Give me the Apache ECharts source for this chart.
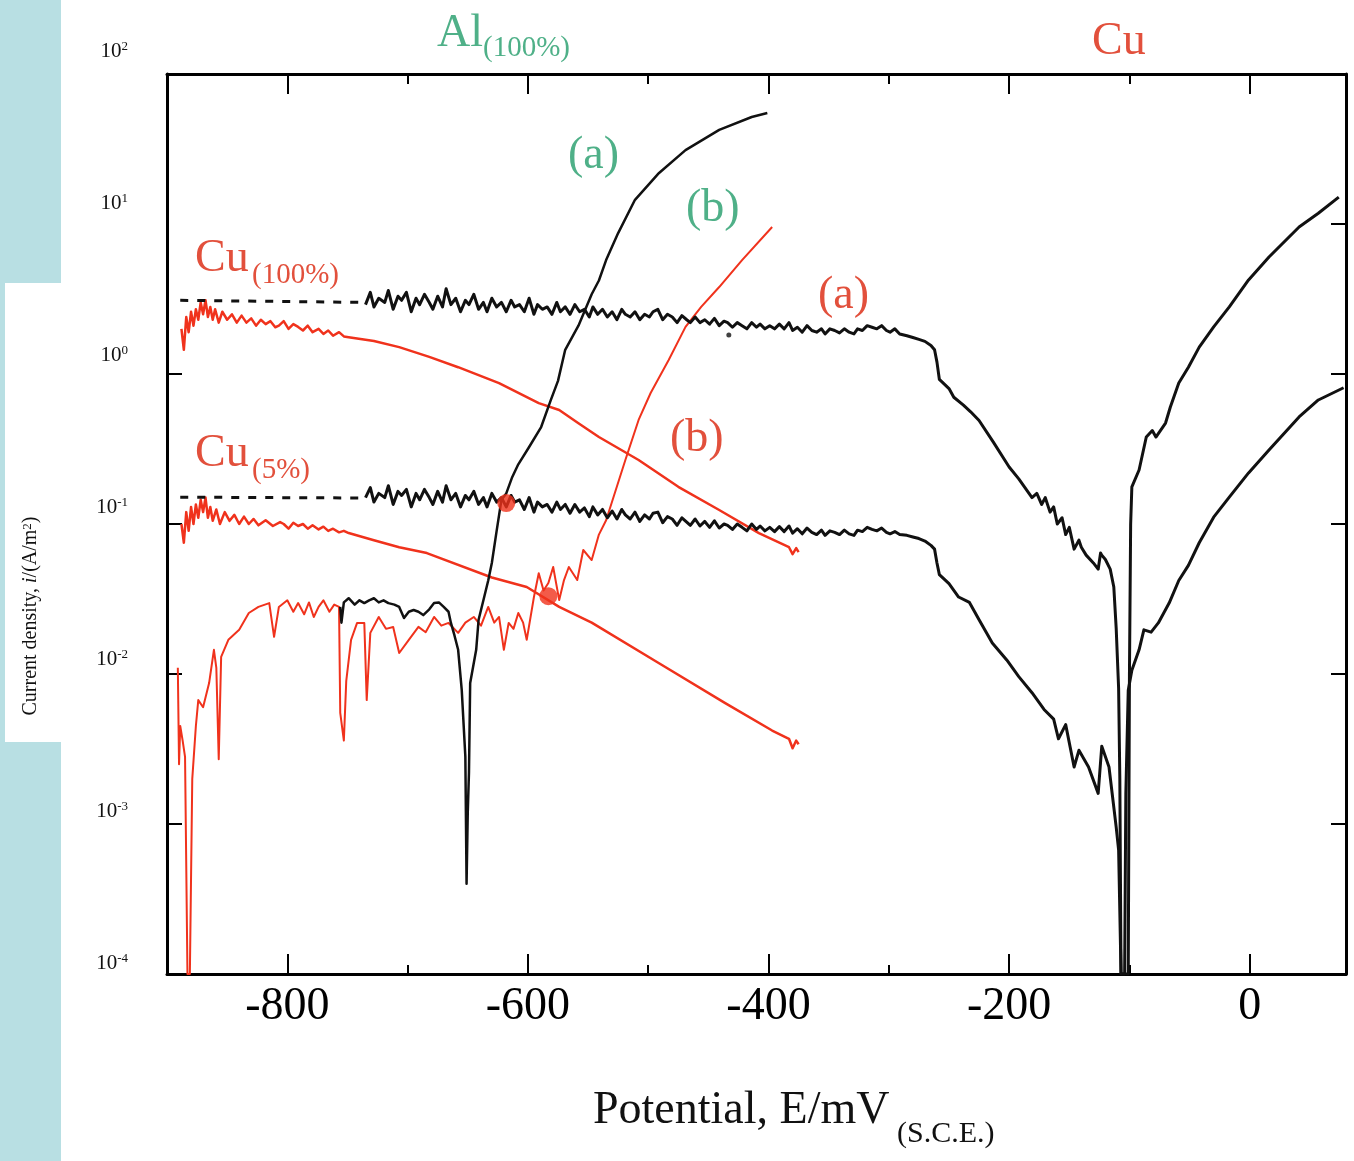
<!DOCTYPE html>
<html>
<head>
<meta charset="utf-8">
<title>Polarization curves</title>
<script src="https://cdn.jsdelivr.net/npm/echarts@6/dist/echarts.min.js"></script>
<style>
html, body { margin: 0; padding: 0; background: #fff; }
#chart { width: 1354px; height: 1161px; }
</style>
</head>
<body>
<div id="chart"></div>
<script>
var dom = document.getElementById('chart');
var myChart = echarts.init(dom, null, { renderer: 'canvas' });

// axis ticks
var majorTicks = [-800, -600, -400, -200, 0];
var minorTicks = [-700, -500, -300, -100];
var decadeLabels = [100, 10, 1, 0.1, 0.01, 0.001, 0.0001];
var leftDecadeTicks = [1, 0.1, 0.01, 0.001];
var rightDecadeTicks = [10, 1, 0.1, 0.01, 0.001];

// Cu(100%) curve (a), black: [E mV, i A/m2]
var cu100A_start = [[-889, 3.1], [-735, 3.0]];
var cu100A = [
  [-735,2.9],[-731,3.5],[-728,2.8],[-724,3.2],[-719,3.0],[-716,3.6],[-712,2.7],[-708,3.3],[-705,3.1],[-701,3.5],
  [-697,2.6],[-693,3.2],[-690,2.9],[-686,3.4],[-682,3.0],[-679,2.7],[-675,3.3],[-671,2.8],[-668,3.7],[-664,2.9],
  [-660,3.2],[-656,2.6],[-652,3.1],[-649,2.9],[-645,3.4],[-641,2.7],[-637,3.0],[-634,2.6],[-630,3.2],[-626,2.8],
  [-622,3.0],[-618,2.6],[-614,3.1],[-611,2.8],[-607,2.9],[-603,2.6],[-599,3.2],[-595,2.5],[-592,2.9],[-588,2.7],
  [-584,2.8],[-580,2.5],[-576,3.0],[-573,2.6],[-569,2.8],[-565,2.5],[-561,2.9],[-557,2.6],[-553,2.7],[-549,2.4],
  [-546,2.8],[-542,2.5],[-538,2.7],[-534,2.4],[-530,2.6],[-526,2.3],[-522,2.7],[-519,2.5],[-515,2.4],[-511,2.6],
  [-507,2.3],[-503,2.5],[-499,2.4],[-496,2.6],[-492,2.7],[-488,2.3],[-484,2.5],[-480,2.4],[-476,2.2],[-472,2.45],
  [-468,2.3],[-465,2.2],[-461,2.4],[-457,2.2],[-453,2.3],[-449,2.15],[-445,2.35],[-441,2.1],[-437,2.25],[-434,2.2],
  [-430,2.05],[-426,2.2],[-422,2.1],[-418,2.0],[-414,2.2],[-410,2.05],[-407,2.15],[-403,2.0],[-399,2.1],[-395,2.0],
  [-391,2.15],[-387,2.0],[-383,2.2],[-380,1.95],[-376,2.05],[-372,1.9],[-368,2.1],[-364,1.95],[-360,1.9],[-356,2.0],
  [-353,1.85],[-349,2.0],[-345,1.95],[-341,1.88],[-337,2.0],[-333,1.9],[-329,1.85],[-326,2.0],[-322,1.95],[-318,2.1],
  [-314,2.05],[-310,2.0],[-306,2.1],[-302,1.95],[-299,1.9],[-295,2.0],[-291,1.85],[-285,1.8],[-280,1.75],[-275,1.7],
  [-270,1.65],[-265,1.55],[-262,1.45],[-260,1.2],[-258,0.92],[-250,0.8],[-246,0.7],[-238,0.62],[-232,0.56],[-225,0.49],
  [-213,0.35],[-200,0.24],[-192,0.2],[-181,0.15],[-177,0.16],[-173,0.135],[-170,0.15],[-166,0.12],[-163,0.13],[-160,0.1],
  [-156,0.11],[-153,0.085],[-150,0.095],[-146,0.068],[-142,0.078],[-140,0.07],[-136,0.062],[-130,0.055],[-126,0.05],[-124,0.064],
  [-123,0.062],[-120,0.058],[-116,0.05],[-113,0.038],[-111,0.02],[-109,0.008],[-108,0.002],[-107,0.0001],[-101,0.0001],[-100,0.01],
  [-99,0.1],[-98,0.177],[-92,0.229],[-86,0.38],[-81,0.42],[-78,0.38],[-70,0.471],[-66,0.603],[-59,0.871],[-51,1.11],
  [-42,1.51],[-30,2.06],[-17,2.8],[-1,4.24],[16,6.03],[41,9.55],[57,11.8],[74,15.1]
];

// Cu(5%) curve (a), black
var cu5A_start = [[-889, 0.151], [-735, 0.149]];
var cu5A = [
  [-735,0.15],[-731,0.175],[-728,0.14],[-724,0.16],[-719,0.15],[-716,0.18],[-712,0.135],[-708,0.165],[-705,0.155],[-701,0.17],
  [-697,0.13],[-693,0.16],[-690,0.145],[-686,0.17],[-682,0.15],[-679,0.135],[-675,0.165],[-671,0.14],[-668,0.18],[-664,0.145],
  [-660,0.16],[-656,0.13],[-652,0.155],[-649,0.145],[-645,0.165],[-641,0.135],[-637,0.15],[-634,0.13],[-630,0.16],[-626,0.14],
  [-622,0.15],[-618,0.13],[-614,0.155],[-611,0.14],[-607,0.145],[-603,0.125],[-599,0.15],[-595,0.12],[-592,0.14],[-588,0.13],
  [-584,0.135],[-580,0.12],[-576,0.14],[-573,0.125],[-569,0.135],[-565,0.118],[-561,0.135],[-557,0.12],[-553,0.128],[-549,0.112],
  [-546,0.13],[-542,0.115],[-538,0.125],[-534,0.11],[-530,0.122],[-526,0.108],[-522,0.125],[-519,0.115],[-515,0.108],[-511,0.12],
  [-507,0.104],[-503,0.115],[-499,0.108],[-496,0.118],[-492,0.12],[-488,0.102],[-484,0.112],[-480,0.108],[-476,0.098],[-472,0.11],
  [-468,0.103],[-465,0.098],[-461,0.108],[-457,0.097],[-453,0.104],[-449,0.095],[-445,0.105],[-441,0.094],[-437,0.1],[-434,0.098],
  [-430,0.092],[-426,0.1],[-422,0.095],[-418,0.09],[-414,0.1],[-410,0.092],[-407,0.097],[-403,0.09],[-399,0.095],[-395,0.089],
  [-391,0.096],[-387,0.089],[-383,0.097],[-380,0.087],[-376,0.093],[-372,0.086],[-368,0.094],[-364,0.088],[-360,0.085],[-356,0.091],
  [-353,0.084],[-349,0.09],[-345,0.088],[-341,0.085],[-337,0.091],[-333,0.086],[-329,0.084],[-326,0.091],[-322,0.089],[-318,0.095],
  [-314,0.092],[-310,0.09],[-306,0.094],[-302,0.088],[-299,0.086],[-295,0.089],[-291,0.085],[-285,0.084],[-280,0.082],[-275,0.08],
  [-270,0.077],[-265,0.072],[-262,0.068],[-260,0.055],[-258,0.046],[-250,0.04],[-242,0.0326],[-233,0.03],[-225,0.023],[-214,0.0161],
  [-202,0.0124],[-192,0.0096],[-181,0.0075],[-171,0.0058],[-163,0.005],[-159,0.0037],[-153,0.0046],[-146,0.0024],[-142,0.0031],[-134,0.0024],
  [-126,0.0016],[-123,0.0033],[-117,0.0024],[-111,0.00095],[-109,0.00067],[-107,0.0001],[-104,0.0001],[-103,0.0016],[-101,0.0078],[-98,0.0106],
  [-92,0.0145],[-88,0.0197],[-82,0.019],[-76,0.0219],[-67,0.0297],[-59,0.042],[-51,0.053],[-42,0.075],[-30,0.111],[-17,0.151],
  [-1,0.219],[16,0.311],[41,0.517],[57,0.671],[78,0.81]
];

// Cu(100%) curve (b), red
var cu100B = [
  [-888,2.0],[-886,1.45],[-884,2.4],[-882,1.9],[-880,2.6],[-878,2.1],[-876,2.7],[-874,2.3],[-872,3.0],[-870,2.5],
  [-868,3.1],[-866,2.4],[-864,2.8],[-862,2.3],[-860,2.7],[-857,2.2],[-854,2.6],[-850,2.3],[-846,2.5],[-842,2.2],
  [-838,2.45],[-834,2.2],[-830,2.35],[-826,2.1],[-822,2.3],[-818,2.15],[-814,2.25],[-810,2.05],[-807,2.1],[-803,2.25],
  [-799,2.0],[-795,2.15],[-791,2.06],[-787,1.95],[-783,2.1],[-779,1.9],[-774,2.0],[-770,1.85],[-766,1.95],[-762,1.8],
  [-757,1.9],[-753,1.78],[-749,1.76],[-728,1.66],[-707,1.51],[-682,1.3],[-658,1.11],[-624,0.87],[-591,0.64],[-574,0.575],
  [-558,0.47],[-541,0.38],[-508,0.267],[-475,0.177],[-441,0.124],[-408,0.087],[-383,0.07],[-380,0.063],[-377,0.069],[-375,0.065]
];

// Cu(5%) curve (b), red
var cu5B = [
  [-888,0.1],[-886,0.075],[-884,0.12],[-882,0.09],[-880,0.13],[-878,0.1],[-876,0.135],[-874,0.11],[-872,0.145],[-870,0.12],
  [-868,0.15],[-866,0.11],[-864,0.13],[-862,0.105],[-859,0.125],[-856,0.1],[-852,0.12],[-848,0.105],[-844,0.115],[-840,0.1],
  [-836,0.112],[-832,0.1],[-828,0.108],[-824,0.098],[-818,0.106],[-812,0.097],[-806,0.103],[-803,0.1],[-799,0.093],[-795,0.102],
  [-791,0.097],[-787,0.1],[-783,0.093],[-779,0.098],[-774,0.092],[-770,0.096],[-766,0.09],[-762,0.093],[-757,0.088],[-753,0.09],
  [-749,0.087],[-728,0.078],[-707,0.07],[-684,0.064],[-630,0.044],[-601,0.038],[-574,0.028],[-547,0.022],[-491,0.0118],[-436,0.0064],
  [-397,0.0042],[-383,0.0037],[-380,0.0032],[-377,0.0036],[-375,0.0034]
];

// Al(100%) curve (a), black
var alA = [
  [-756,0.028],[-755,0.022],[-753,0.03],[-749,0.032],[-744,0.029],[-740,0.031],[-736,0.0297],[-732,0.031],[-728,0.032],[-724,0.03],
  [-720,0.031],[-716,0.0297],[-711,0.029],[-707,0.028],[-703,0.0236],[-699,0.026],[-695,0.0267],[-691,0.026],[-687,0.0247],[-682,0.027],
  [-678,0.0297],[-674,0.03],[-670,0.028],[-666,0.026],[-664,0.0219],[-661,0.018],[-658,0.0145],[-655,0.0078],[-652,0.0028],[-651,0.0004],
  [-650,0.0012],[-649,0.0022],[-648,0.0087],[-643,0.0145],[-641,0.023],[-637,0.031],[-633,0.042],[-630,0.055],[-626,0.09],[-622,0.145],
  [-618,0.16],[-613,0.206],[-608,0.25],[-599,0.326],[-589,0.443],[-581,0.67],[-575,0.9],[-569,1.45],[-558,2.1],[-547,3.4],
  [-541,4.2],[-535,5.75],[-525,8.7],[-511,14.5],[-491,21.9],[-469,31.1],[-441,42.4],[-414,51.7],[-401,55]
];

// Al(100%) curve (b), red
var alB = [
  [-891,0.011],[-890,0.0025],[-889,0.0045],[-887,0.0036],[-885,0.0028],[-883,0.0001],[-881,0.0001],[-879,0.002],[-876,0.0045],[-874,0.0067],
  [-870,0.006],[-865,0.0087],[-861,0.0145],[-859,0.011],[-857,0.0027],[-855,0.013],[-849,0.0169],[-840,0.0197],[-832,0.0255],[-824,0.028],
  [-815,0.0297],[-811,0.0177],[-807,0.028],[-800,0.031],[-795,0.026],[-791,0.0297],[-786,0.025],[-782,0.03],[-778,0.024],[-774,0.028],
  [-770,0.031],[-765,0.026],[-761,0.029],[-757,0.028],[-756,0.0055],[-753,0.0036],[-751,0.009],[-747,0.0169],[-742,0.0219],[-736,0.0219],
  [-734,0.0067],[-731,0.0188],[-724,0.024],[-718,0.02],[-712,0.0206],[-707,0.0138],[-699,0.0169],[-691,0.0206],[-685,0.019],[-678,0.024],
  [-672,0.021],[-666,0.0219],[-658,0.0188],[-652,0.022],[-645,0.024],[-639,0.021],[-633,0.028],[-628,0.022],[-624,0.024],[-620,0.0145],
  [-616,0.0219],[-612,0.02],[-608,0.0255],[-604,0.022],[-601,0.0169],[-595,0.0326],[-591,0.047],[-587,0.036],[-583,0.0404],[-579,0.0517],
  [-574,0.0311],[-570,0.0423],[-566,0.0517],[-559,0.0423],[-554,0.0671],[-547,0.0575],[-541,0.085],[-535,0.106],[-519,0.267],[-508,0.494],
  [-498,0.747],[-483,1.24],[-469,2.06],[-456,2.8],[-441,3.8],[-422,5.75],[-397,9.55]
];

// marked points
var redDots = [[-618, 0.138], [-583, 0.033]];
var blackDots = [[-433, 1.82]];

var BLACK = '#111111';
var RED = '#f0321c';
var GREEN_TXT = '#4fb088';
var RED_TXT = '#e2503c';
var SERIF = '"Liberation Serif", "Times New Roman", serif';

function lineSeries(name, data, color, width, dash) {
  return {
    name: name,
    type: 'line',
    data: data,
    xAxisIndex: 0,
    yAxisIndex: 0,
    symbol: 'none',
    smooth: false,
    clip: true,
    lineStyle: { color: color, width: width, type: dash || 'solid', join: 'round' },
    emphasis: { disabled: true }
  };
}

function axisX(pos, ticks, len, showLine, showLabel) {
  return {
    gridIndex: 0, type: 'value', min: -900, max: 80, position: pos,
    axisLine: { show: showLine, onZero: false, lineStyle: { color: '#000', width: 3 } },
    axisTick: { show: true, inside: true, length: len, customValues: ticks, lineStyle: { color: '#000', width: 2 } },
    axisLabel: showLabel ? {
      customValues: ticks, margin: 10, color: '#000', fontFamily: SERIF, fontSize: 46
    } : { show: false },
    splitLine: { show: false }
  };
}

function axisY(pos, ticks) {
  return {
    gridIndex: 0, type: 'log', logBase: 10, min: 0.0001, max: 100, position: pos,
    axisLine: { show: true, onZero: false, lineStyle: { color: '#000', width: 3 } },
    axisTick: { show: true, inside: true, length: 15, customValues: ticks, lineStyle: { color: '#000', width: 2 } },
    axisLabel: { show: false },
    splitLine: { show: false }
  };
}

function txt(str, x, y, size, color) {
  return {
    type: 'text', x: x, y: y, z: 10,
    style: { text: str, fill: color, font: size + 'px ' + SERIF, align: 'left', verticalAlign: 'middle' }
  };
}

option = {
  animation: false,
  backgroundColor: '#ffffff',
  grid: [
    { left: 167, top: 74, width: 1179, height: 900, containLabel: false },
    { left: 130, top: 51, width: 20, height: 912, containLabel: false }
  ],
  xAxis: [
    axisX('bottom', majorTicks, 20, true, true),
    axisX('top', majorTicks, 20, true, false),
    axisX('bottom', minorTicks, 9, false, false),
    axisX('top', minorTicks, 10, false, false),
    { gridIndex: 1, type: 'value', min: 0, max: 1, show: false }
  ],
  yAxis: [
    axisY('left', leftDecadeTicks),
    axisY('right', rightDecadeTicks),
    {
      gridIndex: 1, type: 'log', logBase: 10, min: 0.0001, max: 100, position: 'left',
      axisLine: { show: false }, axisTick: { show: false }, splitLine: { show: false },
      axisLabel: {
        customValues: decadeLabels, margin: 2,
        formatter: function (v) {
          return '{b|10}{s|' + Math.round(Math.log10(v)) + '}';
        },
        rich: {
          b: { fontFamily: SERIF, fontSize: 21, color: '#111' },
          s: { fontFamily: SERIF, fontSize: 13, color: '#111', verticalAlign: 'top' }
        }
      }
    }
  ],
  graphic: [
    { type: 'rect', shape: { x: 0, y: 0, width: 61, height: 1161 }, style: { fill: '#b8dfe3' }, z: 1 },
    { type: 'rect', shape: { x: 5, y: 283, width: 56, height: 459 }, style: { fill: '#ffffff' }, z: 2 },
    {
      type: 'text', x: 31, y: 616, rotation: Math.PI / 2, z: 10,
      style: {
        text: '{t|Current density, }{i|i}{t|/(A/m}{s|2}{t|)}',
        align: 'center', verticalAlign: 'middle',
        rich: {
          t: { fontFamily: SERIF, fontSize: 20, fill: '#111' },
          i: { fontFamily: SERIF, fontSize: 20, fontStyle: 'italic', fill: '#111' },
          s: { fontFamily: SERIF, fontSize: 13, fill: '#111', verticalAlign: 'top' }
        }
      }
    },
    txt('Potential, E/mV', 593, 1111, 46, '#111'),
    txt('(S.C.E.)', 897, 1134, 30, '#111'),
    txt('Al', 437, 34, 46, GREEN_TXT),
    txt('(100%)', 483, 48, 29, GREEN_TXT),
    txt('(a)', 568, 156, 46, GREEN_TXT),
    txt('(b)', 686, 209, 46, GREEN_TXT),
    txt('Cu', 1092, 42, 46, RED_TXT),
    txt('Cu', 195, 259, 46, RED_TXT),
    txt('(100%)', 252, 275, 29, RED_TXT),
    txt('(a)', 818, 296, 46, RED_TXT),
    txt('(b)', 670, 439, 46, RED_TXT),
    txt('Cu', 195, 454, 46, RED_TXT),
    txt('(5%)', 252, 470, 29, RED_TXT)
  ],
  series: [
    lineSeries('Al (b)', alB, RED, 2),
    lineSeries('Cu(100%) (b)', cu100B, RED, 2.5),
    lineSeries('Cu(5%) (b)', cu5B, RED, 2.5),
    lineSeries('Cu(100%) (a) start', cu100A_start, BLACK, 3, [8, 9]),
    lineSeries('Cu(5%) (a) start', cu5A_start, BLACK, 3, [8, 9]),
    lineSeries('Cu(100%) (a)', cu100A, BLACK, 3),
    lineSeries('Cu(5%) (a)', cu5A, BLACK, 3),
    lineSeries('Al (a)', alA, BLACK, 2.5),
    {
      type: 'scatter', data: redDots, xAxisIndex: 0, yAxisIndex: 0,
      symbol: 'circle', symbolSize: 18, itemStyle: { color: RED }, z: 5
    },
    {
      type: 'scatter', data: blackDots, xAxisIndex: 0, yAxisIndex: 0,
      symbol: 'circle', symbolSize: 5, itemStyle: { color: BLACK }, z: 5
    }
  ]
};

if (option && typeof option === 'object') {
  myChart.setOption(option, true);
}
</script>
</body>
</html>
